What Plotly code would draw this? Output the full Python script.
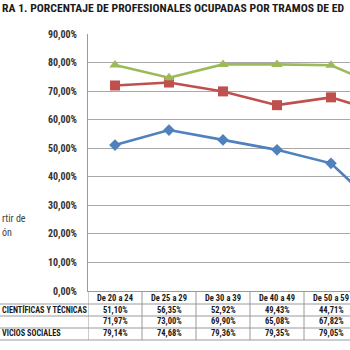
import plotly.graph_objects as go

categories = ["De 20 a 24", "De 25 a 29", "De 30 a 39", "De 40 a 49", "De 50 a 59", "De 60 a 64"]
# visible (cropped) parts of the row labels and texts as they appear in the picture
row_labels = ["CIENTÍFICAS Y TÉCNICAS", "", "VICIOS SOCIALES"]
blue_vals = [0.5110, 0.5635, 0.5292, 0.4943, 0.4471, 0.27]
red_vals = [0.7197, 0.7300, 0.6990, 0.6508, 0.6782, 0.62]
green_vals = [0.7914, 0.7468, 0.7936, 0.7935, 0.7905, 0.71]
y_ticks = [0, 0.1, 0.2, 0.3, 0.4, 0.5, 0.6, 0.7, 0.8, 0.9]
title_text = "RA 1. PORCENTAJE DE PROFESIONALES OCUPADAS POR TRAMOS DE ED"
side_text = ["rtir de", "ón"]

W, H = 350, 350
L, R, T, B = 88, 0, 34, 59
plot_h = H - T - B
BOTTOM = H - B

FONT = "Roboto Condensed, Liberation Sans Narrow, Arial Narrow, Roboto, sans-serif"
colors = ["#4F81BD", "#C0504D", "#9BBB59"]
symbols = ["diamond", "square", "triangle-up"]
msizes = [9, 10, 10]
xs = list(range(len(categories)))

fig = go.Figure()
for vals, c, s, ms in zip([blue_vals, red_vals, green_vals], colors, symbols, msizes):
    fig.add_trace(go.Scatter(
        x=xs, y=vals, mode="lines+markers",
        line=dict(color=c, width=2.6),
        marker=dict(symbol=s, size=ms, color=c),
        cliponaxis=True, showlegend=False,
    ))

def py(p):
    return (BOTTOM - p) / plot_h

annotations = []
def ann_px(text, px, pyy, anchor="left", size=9, bold=True, color="#1a1a1a"):
    annotations.append(dict(
        text=text, xref="paper", yref="paper", x=0, y=1,
        xshift=px - L, yshift=T - pyy, xanchor=anchor, yanchor="middle",
        showarrow=False, font=dict(family=FONT, size=size, color=color,
                                   weight="bold" if bold else "normal"),
    ))

ann_px(title_text, 0, 8, "left", size=11.7)
ann_px(side_text[0], 0, 218, "left", size=10, bold=False, color="#404040")
ann_px(side_text[1], 0, 232, "left", size=10, bold=False, color="#404040")

row_px = [297.5, 309.5, 321, 332.5]
TF = 8.5
for i, cat in enumerate(categories):
    annotations.append(dict(text=cat, xref="x", yref="paper", x=i, y=0, yshift=BOTTOM - row_px[0],
                            yanchor="middle", showarrow=False,
                            font=dict(family=FONT, size=TF, color="#1a1a1a", weight="bold")))
    for r, vals in enumerate([blue_vals, red_vals, green_vals]):
        annotations.append(dict(text=f"{vals[i]*100:.2f}%".replace(".", ","), xref="x", yref="paper",
                                x=i, y=0, yshift=BOTTOM - row_px[r + 1], yanchor="middle",
                                showarrow=False,
                                font=dict(family=FONT, size=TF, color="#1a1a1a", weight="bold")))
for r, lab in enumerate(row_labels):
    if lab:
        ann_px(lab, 0, row_px[r + 1], "left", size=8.2)

shapes = []
line_col = "#9a9a9a"
for p in [304, 316, 328, 340]:
    shapes.append(dict(type="line", xref="paper", yref="paper", x0=-L / (W - L), x1=1.0, y0=py(p), y1=py(p),
                       line=dict(color=line_col, width=1)))
for i in range(len(categories) + 1):
    shapes.append(dict(type="line", xref="x", yref="paper", x0=i - 0.5, x1=i - 0.5, y0=0, y1=py(340),
                       line=dict(color=line_col, width=1)))

fig.update_layout(
    width=W, height=H, margin=dict(l=L, r=R, t=T, b=B, autoexpand=False),
    paper_bgcolor="white", plot_bgcolor="white",
    separators=",.",
    annotations=annotations, shapes=shapes,
    xaxis=dict(range=[-0.5, (350 - 115) / 54], showticklabels=False, showgrid=False,
               zeroline=False, showline=True, linecolor=line_col, linewidth=1,
               automargin=False, fixedrange=True),
    yaxis=dict(range=[0, 0.9], tickvals=y_ticks, tickformat=".2%", showgrid=True,
               gridcolor="#a8a8a8", gridwidth=1, zeroline=False, showline=True,
               linecolor=line_col, linewidth=1, ticks="", ticklabelstandoff=8,
               automargin=False,
               tickfont=dict(family=FONT, size=10, color="#333333", weight="bold")),
)

fig.write_html("out.html")
